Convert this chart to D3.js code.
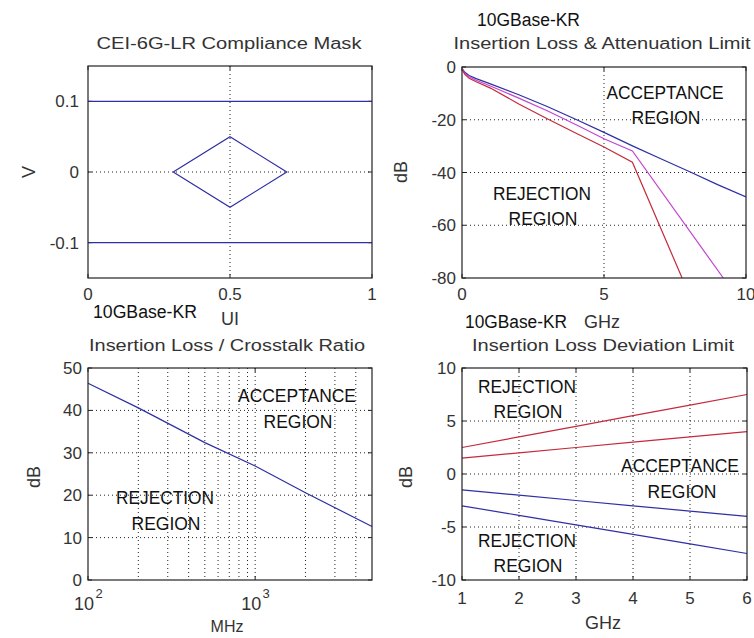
<!DOCTYPE html>
<html lang="en">
<head>
    <meta charset="UTF-8">
    <title>10GBase-KR channel limits</title>
    <script src="https://d3js.org/d3.v7.min.js"></script>
    <style>
        body { margin: 0; background: #fff; }
        svg { display: block; }
        .lbl { font-family: "Liberation Sans", Arial, sans-serif; fill: #333; }
        .big { font-family: "Liberation Sans Narrow", "Liberation Sans", Arial, sans-serif; fill: #111; }
        .grid { stroke: #222; stroke-width: 1; stroke-dasharray: 1,3; }
        .frame { fill: none; stroke: #222; stroke-width: 1.2; }
    </style>
</head>
<body>
<svg id="chart" width="754" height="638"></svg>
<script>
    // ---- data ----
    // panel 1: CEI-6G-LR compliance mask (UI vs V)
    const maskUI = [0.3, 0.5, 0.7, 0.5, 0.3];
    const maskV = [0, 0.05, 0, -0.05, 0];
    const maskLimits = [0.1, -0.1];
    const maskXTicks = [0, 0.5, 1];
    const maskYTicks = [-0.1, 0, 0.1];

    // panel 2: insertion loss & attenuation limit (GHz vs dB)
    const ilBlueF = [0.02, 0.1, 0.25, 0.5, 1, 2, 3, 4, 5, 6, 7, 8, 9, 10];
    const ilBlueDB = [-0.8, -2.0, -3.2, -4.4, -6.4, -10.5, -15.0, -19.8, -24.8, -29.9, -34.8, -39.6, -44.6, -49.3];
    const ilMagF = [0.02, 0.1, 0.25, 0.5, 1, 2, 3, 4, 5, 6, 9.2];
    const ilMagDB = [-1.0, -2.4, -3.7, -5.0, -7.2, -11.8, -16.6, -21.8, -27.2, -31.8, -80];
    const ilRedF = [0.02, 0.1, 0.25, 0.5, 1, 2, 3, 4, 5, 6, 7.75];
    const ilRedDB = [-1.2, -2.8, -4.3, -5.6, -8.0, -14.0, -19.6, -25.0, -30.3, -36.1, -80];
    const ilXTicks = [0, 5, 10];
    const ilYTicks = [-80, -60, -40, -20, 0];

    // panel 3: insertion loss / crosstalk ratio (MHz vs dB)
    const icrMHz = [100, 200, 500, 1000, 2000, 5000];
    const icrDB = [46.4, 40.6, 32.4, 26.9, 20.6, 12.6];
    const icrYTicks = [0, 10, 20, 30, 40, 50];
    const icrGridX = [200, 300, 400, 500, 600, 700, 800, 900, 1000, 2000, 3000, 4000];

    // panel 4: insertion loss deviation limit (GHz vs dB)
    const ildF = [1, 2, 3, 4, 5, 6];
    const ildRedHi = [2.5, 3.5, 4.5, 5.5, 6.5, 7.5];
    const ildRedLo = [1.5, 2.0, 2.5, 3.0, 3.5, 4.0];
    const ildBlueHi = [-1.5, -2.0, -2.5, -3.0, -3.5, -4.0];
    const ildBlueLo = [-3.0, -3.9, -4.8, -5.7, -6.6, -7.5];
    const ildYTicks = [-10, -5, 0, 5, 10];

    const BLUE = "#2f2fa6", RED = "#c42a3c", MAG = "#c445d2";
    const TICK = 17, AXL = 18;

    const svg = d3.select("#chart");

    function txt(x, y, s, opts = {}) {
        const t = svg.append("text")
            .attr("class", opts.cls || "lbl")
            .attr("x", x).attr("y", y)
            .attr("font-size", opts.size || TICK)
            .attr("text-anchor", opts.anchor || "middle")
            .text(s);
        if (opts.len) t.attr("textLength", opts.len).attr("lengthAdjust", "spacingAndGlyphs");
        if (opts.rot) t.attr("transform", `rotate(-90,${x},${y})`);
        return t;
    }

    // draw grid and inward ticks for one panel
    function panel(x, y, gx, gy, xTicks, yTicks, xGrid, yGrid) {
        const g = svg.append("g");
        g.selectAll(".gx").data(xGrid).join("line")
            .attr("class", "grid")
            .attr("x1", d => x(d)).attr("x2", d => x(d))
            .attr("y1", gy[0]).attr("y2", gy[1]);
        g.selectAll(".gy").data(yGrid).join("line")
            .attr("class", "grid")
            .attr("y1", d => y(d)).attr("y2", d => y(d))
            .attr("x1", gx[0]).attr("x2", gx[1]);
        xTicks.forEach(d => {
            g.append("line").attr("stroke", "#222").attr("x1", x(d)).attr("x2", x(d)).attr("y1", gy[1]).attr("y2", gy[1] - 4);
            g.append("line").attr("stroke", "#222").attr("x1", x(d)).attr("x2", x(d)).attr("y1", gy[0]).attr("y2", gy[0] + 4);
        });
        yTicks.forEach(d => {
            g.append("line").attr("stroke", "#222").attr("y1", y(d)).attr("y2", y(d)).attr("x1", gx[0]).attr("x2", gx[0] + 4);
            g.append("line").attr("stroke", "#222").attr("y1", y(d)).attr("y2", y(d)).attr("x1", gx[1]).attr("x2", gx[1] - 4);
        });
        return g;
    }

    function frame(gx, gy) {
        svg.append("rect").attr("class", "frame")
            .attr("x", gx[0]).attr("y", gy[0])
            .attr("width", gx[1] - gx[0]).attr("height", gy[1] - gy[0]);
    }

    function curve(x, y, xs, ys, color, clipId) {
        const pts = xs.map((d, i) => [d, ys[i]]);
        svg.append("path")
            .datum(pts)
            .attr("fill", "none")
            .attr("stroke", color)
            .attr("stroke-width", 1.2)
            .attr("clip-path", clipId ? `url(#${clipId})` : null)
            .attr("d", d3.line().x(d => x(d[0])).y(d => y(d[1])));
    }

    const defs = svg.append("defs");
    function clip(id, gx, gy) {
        defs.append("clipPath").attr("id", id).append("rect")
            .attr("x", gx[0]).attr("y", gy[0]).attr("width", gx[1] - gx[0]).attr("height", gy[1] - gy[0]);
    }

    // ---------- panel 1 ----------
    {
        const gx = [88, 372], gy = [66, 278];
        const x = d3.scaleLinear().domain([0, 1]).range(gx);
        const y = d3.scaleLinear().domain([-0.15, 0.15]).range([gy[1], gy[0]]);
        panel(x, y, gx, gy, maskXTicks, maskYTicks, [0.5], [0]);
        maskLimits.forEach(v => curve(x, y, [0, 1], [v, v], BLUE));
        curve(x, y, maskUI, maskV, BLUE);
        frame(gx, gy);
        maskYTicks.forEach(d => txt(gx[0] - 9, y(d) + 6, String(d), { anchor: "end" }));
        maskXTicks.forEach(d => txt(x(d), 300, String(d)));
        txt(229, 49, "CEI-6G-LR Compliance Mask", { size: 16, len: 265 });
        txt(35, 172, "V", { rot: true, size: AXL });
        txt(230, 325, "UI", { size: AXL });
    }

    // ---------- panel 2 ----------
    {
        const gx = [462, 746], gy = [67, 278];
        const x = d3.scaleLinear().domain([0, 10]).range(gx);
        const y = d3.scaleLinear().domain([-80, 0]).range([gy[1], gy[0]]);
        clip("c2", gx, gy);
        panel(x, y, gx, gy, ilXTicks, ilYTicks, [5], [-20, -40, -60]);
        curve(x, y, ilBlueF, ilBlueDB, BLUE, "c2");
        curve(x, y, ilMagF, ilMagDB, MAG, "c2");
        curve(x, y, ilRedF, ilRedDB, RED, "c2");
        frame(gx, gy);
        ilYTicks.forEach(d => txt(gx[0] - 6, y(d) + 6, String(d), { anchor: "end" }));
        ilXTicks.forEach(d => txt(x(d), 300, String(d)));
        txt(477, 26, "10GBase-KR", { cls: "big", size: 18, anchor: "start", len: 103 });
        txt(602, 49, "Insertion Loss & Attenuation Limit", { size: 16, len: 297 });
        txt(407, 172, "dB", { rot: true, size: AXL });
        txt(602, 328, "GHz", { size: AXL });
        txt(665, 99, "ACCEPTANCE", { cls: "big", size: 19, len: 117 });
        txt(666, 124, "REGION", { cls: "big", size: 19, len: 69 });
        txt(542, 200, "REJECTION", { cls: "big", size: 19, len: 98 });
        txt(543, 225, "REGION", { cls: "big", size: 19, len: 69 });
    }

    // ---------- panel 3 ----------
    {
        const gx = [88, 372], gy = [368, 580];
        const x = d3.scaleLog().domain([100, 5000]).range(gx);
        const y = d3.scaleLinear().domain([0, 50]).range([gy[1], gy[0]]);
        panel(x, y, gx, gy, [100, 1000], icrYTicks, icrGridX, [10, 20, 30, 40]);
        curve(x, y, icrMHz, icrDB, BLUE);
        frame(gx, gy);
        icrYTicks.forEach(d => txt(gx[0] - 6, y(d) + 6, String(d), { anchor: "end" }));
        [100, 1000].forEach(d => {
            txt(x(d) - 4, 610, "10", { size: 18 });
            svg.append("text").attr("class", "lbl").attr("font-size", 13)
                .attr("x", x(d) + 11).attr("y", 598).attr("text-anchor", "middle")
                .text(String(Math.round(Math.log10(d))));
        });
        txt(93, 318, "10GBase-KR", { cls: "big", size: 18, anchor: "start", len: 104 });
        txt(227, 351, "Insertion Loss / Crosstalk Ratio", { size: 16, len: 276 });
        txt(40, 477, "dB", { rot: true, size: AXL });
        txt(227, 632, "MHz", { size: 16 });
        txt(297, 402, "ACCEPTANCE", { cls: "big", size: 19, len: 118 });
        txt(298, 428, "REGION", { cls: "big", size: 19, len: 69 });
        txt(165, 504, "REJECTION", { cls: "big", size: 19, len: 98 });
        txt(166, 530, "REGION", { cls: "big", size: 19, len: 69 });
    }

    // ---------- panel 4 ----------
    {
        const gx = [462, 747], gy = [368, 580];
        const x = d3.scaleLinear().domain([1, 6]).range(gx);
        const y = d3.scaleLinear().domain([-10, 10]).range([gy[1], gy[0]]);
        panel(x, y, gx, gy, ildF, ildYTicks, [2, 3, 4, 5], [5, 0, -5]);
        curve(x, y, ildF, ildRedHi, RED);
        curve(x, y, ildF, ildRedLo, RED);
        curve(x, y, ildF, ildBlueHi, BLUE);
        curve(x, y, ildF, ildBlueLo, BLUE);
        frame(gx, gy);
        ildYTicks.forEach(d => txt(gx[0] - 6, y(d) + 6, String(d), { anchor: "end" }));
        ildF.forEach(d => txt(x(d), 604, String(d)));
        txt(465, 328, "10GBase-KR", { cls: "big", size: 18, anchor: "start", len: 102 });
        txt(603, 351, "Insertion Loss Deviation Limit", { size: 16, len: 262 });
        txt(412, 477, "dB", { rot: true, size: AXL });
        txt(603, 629, "GHz", { size: AXL });
        txt(527, 393, "REJECTION", { cls: "big", size: 19, len: 98 });
        txt(528, 418, "REGION", { cls: "big", size: 19, len: 69 });
        txt(680, 472, "ACCEPTANCE", { cls: "big", size: 19, len: 118 });
        txt(682, 498, "REGION", { cls: "big", size: 19, len: 69 });
        txt(527, 547, "REJECTION", { cls: "big", size: 19, len: 98 });
        txt(528, 572, "REGION", { cls: "big", size: 19, len: 69 });
    }
</script>
</body>
</html>
